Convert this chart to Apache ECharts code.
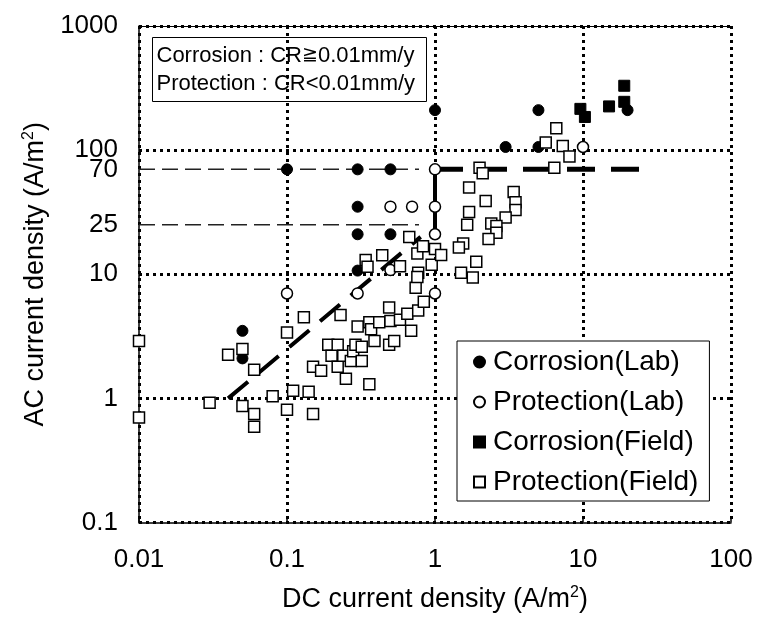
<!DOCTYPE html>
<html>
<head>
<meta charset="utf-8">
<script src="https://cdn.jsdelivr.net/npm/echarts@6/dist/echarts.min.js"></script>
<style>
  html, body { margin: 0; padding: 0; background: #fff; }
  #chart { width: 757px; height: 618px; }
</style>
</head>
<body>
<div id="chart"></div>
<script>
// ---- data: [DC current density (A/m2), AC current density (A/m2)] ----
const corrosionLab = [
  [0.05, 3.5], [0.05, 2.1], [0.1, 70], [0.3, 70], [0.5, 70], [0.3, 35],
  [0.3, 21], [0.5, 21], [0.3, 10.7], [1, 210], [5, 210], [3, 106], [5, 106], [20, 210]
];
const protectionLab = [
  [0.1, 7], [0.3, 7], [1, 7], [0.5, 10.8], [0.5, 35], [0.7, 35],
  [1, 35], [1, 21], [1, 70], [10, 106]
];
const corrosionField = [
  [9.6, 215], [10.3, 185], [15, 225], [19, 330], [19, 245]
];
const protectionField = [
  [0.01, 2.9], [0.01, 0.7], [0.03, 0.92], [0.04, 2.25], [0.05, 2.5], [0.05, 0.87],
  [0.06, 1.7], [0.06, 0.75], [0.06, 0.59], [0.08, 1.04], [0.1, 3.4], [0.11, 1.15],
  [0.1, 0.81], [0.14, 1.13], [0.15, 0.75], [0.13, 4.5], [0.15, 1.8], [0.17, 1.67],
  [0.19, 2.7], [0.2, 2.2], [0.22, 2.7], [0.22, 1.8], [0.23, 4.7], [0.24, 2.2],
  [0.25, 1.44], [0.27, 2.0], [0.28, 2.4], [0.29, 2.7], [0.3, 3.8], [0.32, 2.6],
  [0.32, 2.0], [0.34, 13], [0.35, 11.5], [0.36, 4.1], [0.36, 1.3], [0.37, 3.6],
  [0.39, 2.9], [0.42, 4.1], [0.44, 14.2], [0.49, 5.4], [0.49, 2.7], [0.5, 4.2],
  [0.53, 2.9], [0.58, 4.3], [0.58, 11.6], [0.65, 4.8], [0.67, 20], [0.69, 3.5],
  [0.74, 7.8], [0.76, 14.7], [0.77, 10.3], [0.76, 9.5], [0.77, 5.1], [0.83, 16.8],
  [0.84, 6.0], [0.95, 11.9], [1.0, 16], [1.1, 14.3],
  [2.0, 72], [2.1, 65], [6.4, 72], [1.7, 50], [2.2, 39], [3.4, 46], [3.5, 38],
  [3.5, 33], [3.0, 28.6], [2.4, 25.6], [2.6, 24.5], [2.6, 21.6], [2.3, 19.2],
  [1.7, 31.7], [1.65, 25], [1.55, 17.7], [1.45, 16.4], [1.9, 12.6], [1.5, 10.3],
  [1.8, 9.4], [5.6, 115], [6.6, 150], [7.3, 108], [8.1, 89]
];

// boundary lines
const boundaryDiagonal = [[0.04, 1], [0.8, 20]];
const boundaryVertical = [[1, 21], [1, 70]];
const boundaryHorizontal = [[1, 70], [25, 70]];
// reference levels marked on the AC axis
const refLevels = [70, 25];
const refLineEndX = 0.78;

// axis tick labels
const xTickLabels = ['0.01', '0.1', '1', '10', '100'];
const yTickLabels = ['0.1', '1', '10', '100', '1000'];

// legend / annotation text
const seriesNames = ['Corrosion(Lab)', 'Protection(Lab)', 'Corrosion(Field)', 'Protection(Field)'];
const criteriaCorrosion = ['Corrosion : CR', '\u2267', '0.01mm/y'];
const criteriaProtection = 'Protection : CR<0.01mm/y';

const FONT = '"Liberation Sans", Arial, sans-serif';
const X_MIN = 0.01;

function decadeLabel(list, v) {
  const e = Math.round(Math.log10(v));
  const found = list.find(s => Math.round(Math.log10(parseFloat(s))) === e);
  return found || String(v);
}

const refLineSeries = refLevels.map(v => ({
  type: 'line',
  data: [[X_MIN, v], [refLineEndX, v]],
  symbol: 'none',
  silent: true,
  lineStyle: { color: '#222', width: 1.5, type: [16, 7], cap: 'butt' },
  z: 2
}));

const chart = echarts.init(document.getElementById('chart'), null, { renderer: 'canvas' });

const criteriaBox = {
  type: 'group',
  id: 'criteria',
  left: 152,
  top: 37,
  children: [{
    type: 'rect',
    shape: { x: 0, y: 0, width: 274, height: 64 },
    style: { fill: '#fff', stroke: '#000', lineWidth: 1 }
  }, {
    type: 'text',
    x: 4, y: 18,
    style: {
      text: '{a|' + criteriaCorrosion[0] + '}{b|' + criteriaCorrosion[1] + '}{a|' + criteriaCorrosion[2] + '}',
      rich: {
        a: { font: '22px ' + FONT, fill: '#000', lineHeight: 26 },
        b: { font: '19px "DejaVu Sans"', fill: '#000', lineHeight: 26 }
      },
      verticalAlign: 'middle'
    }
  }, {
    type: 'text',
    x: 4, y: 46,
    style: { text: criteriaProtection, font: '22px ' + FONT, fill: '#000', verticalAlign: 'middle' }
  }],
  z: 100
};

chart.setOption({
  animation: false,
  backgroundColor: '#fff',
  color: ['#000'],
  textStyle: { fontFamily: FONT, color: '#000' },
  grid: { left: 139, right: 26, top: 26, bottom: 92, containLabel: false },
  xAxis: [{
    type: 'log',
    logBase: 10,
    min: X_MIN,
    max: 100,
    name: '{t|DC current density (A/m}{s|2}{t|)}',
    nameLocation: 'middle',
    nameGap: 62,
    nameTextStyle: {
      rich: {
        t: { fontSize: 27, lineHeight: 30, fontFamily: FONT, color: '#000' },
        s: { fontSize: 16, lineHeight: 30, verticalAlign: 'top', fontFamily: FONT, color: '#000' }
      }
    },
    axisLine: { show: true, onZero: false, lineStyle: { color: '#000', width: 1.5 } },
    axisTick: { show: true, inside: true, length: 5, lineStyle: { color: '#000', width: 1.5 } },
    axisLabel: {
      fontSize: 26, margin: 24, color: '#000', fontFamily: FONT,
      showMinLabel: true, showMaxLabel: true,
      formatter: v => decadeLabel(xTickLabels, v)
    },
    splitLine: { show: true, lineStyle: { color: '#000', width: 3, type: [3, 4], cap: 'butt' } },
    minorTick: { show: false }
  }, {
    type: 'log',
    logBase: 10,
    min: X_MIN,
    max: 100,
    position: 'top',
    axisLine: { show: true, onZero: false, lineStyle: { color: '#000', width: 1 } },
    axisTick: { show: false },
    axisLabel: { show: false },
    splitLine: { show: false }
  }],
  yAxis: {
    type: 'log',
    logBase: 10,
    min: 0.1,
    max: 1000,
    name: '{t|AC current density (A/m}{s|2}{t|)}',
    nameLocation: 'middle',
    nameGap: 88,
    nameRotate: 90,
    nameTextStyle: {
      rich: {
        t: { fontSize: 27, lineHeight: 30, fontFamily: FONT, color: '#000' },
        s: { fontSize: 16, lineHeight: 30, verticalAlign: 'top', fontFamily: FONT, color: '#000' }
      }
    },
    axisLine: { show: true, onZero: false, lineStyle: { color: '#000', width: 1.5 } },
    axisTick: { show: false },
    axisLabel: {
      fontSize: 26, margin: 21, color: '#000', fontFamily: FONT,
      showMinLabel: true, showMaxLabel: true,
      formatter: v => decadeLabel(yTickLabels, v)
    },
    splitLine: { show: true, lineStyle: { color: '#000', width: 3, type: [3, 4], cap: 'butt' } }
  },
  legend: {
    data: seriesNames,
    orient: 'vertical',
    left: 457,
    top: 341,
    backgroundColor: '#fff',
    borderColor: '#000',
    borderWidth: 1,
    borderRadius: 0,
    padding: [6, 11, 4, 16],
    itemWidth: 11,
    itemHeight: 11,
    itemGap: 10,
    selectedMode: false,
    textStyle: { fontSize: 28, lineHeight: 30, color: '#000', fontFamily: FONT, padding: [0, 0, 0, 3] }
  },
  graphic: [criteriaBox],
  series: [
    ...refLineSeries,
    {
      type: 'line',
      data: boundaryDiagonal,
      symbol: 'none',
      silent: true,
      lineStyle: { color: '#000', width: 4, type: [26, 14], cap: 'butt' },
      z: 3
    },
    {
      type: 'line',
      data: boundaryVertical,
      symbol: 'none',
      silent: true,
      lineStyle: { color: '#000', width: 4, type: 'solid' },
      z: 3
    },
    {
      type: 'line',
      data: boundaryHorizontal,
      symbol: 'none',
      silent: true,
      lineStyle: { color: '#000', width: 5, type: [28, 16], cap: 'butt' },
      z: 3
    },
    {
      type: 'scatter',
      name: seriesNames[0],
      data: corrosionLab,
      symbol: 'circle',
      symbolSize: 11,
      clip: false,
      itemStyle: { color: '#000', borderColor: '#000', borderWidth: 1, opacity: 1 },
      z: 5
    },
    {
      type: 'scatter',
      name: seriesNames[1],
      data: protectionLab,
      symbol: 'circle',
      symbolSize: 11,
      clip: false,
      itemStyle: { color: '#fff', borderColor: '#000', borderWidth: 1.5, opacity: 1 },
      z: 5
    },
    {
      type: 'scatter',
      name: seriesNames[2],
      data: corrosionField,
      symbol: 'rect',
      symbolSize: 11,
      clip: false,
      itemStyle: { color: '#000', borderColor: '#000', borderWidth: 1, opacity: 1 },
      z: 5
    },
    {
      type: 'scatter',
      name: seriesNames[3],
      data: protectionField,
      symbol: 'rect',
      symbolSize: 11,
      clip: false,
      itemStyle: { color: '#fff', borderColor: '#000', borderWidth: 1.5, opacity: 1 },
      z: 5
    }
  ]
});

// extra AC-axis labels for the reference levels, placed through the axis scale
const levelLabels = refLevels.map(v => {
  const p = chart.convertToPixel({ xAxisIndex: 0, yAxisIndex: 0 }, [X_MIN, v]);
  return {
    type: 'text',
    x: p[0] - 21,
    y: p[1],
    style: {
      text: String(v),
      font: '26px ' + FONT,
      fill: '#000',
      align: 'right',
      verticalAlign: 'middle'
    },
    z: 50
  };
});
chart.setOption({ graphic: [criteriaBox, ...levelLabels] });
</script>
</body>
</html>
